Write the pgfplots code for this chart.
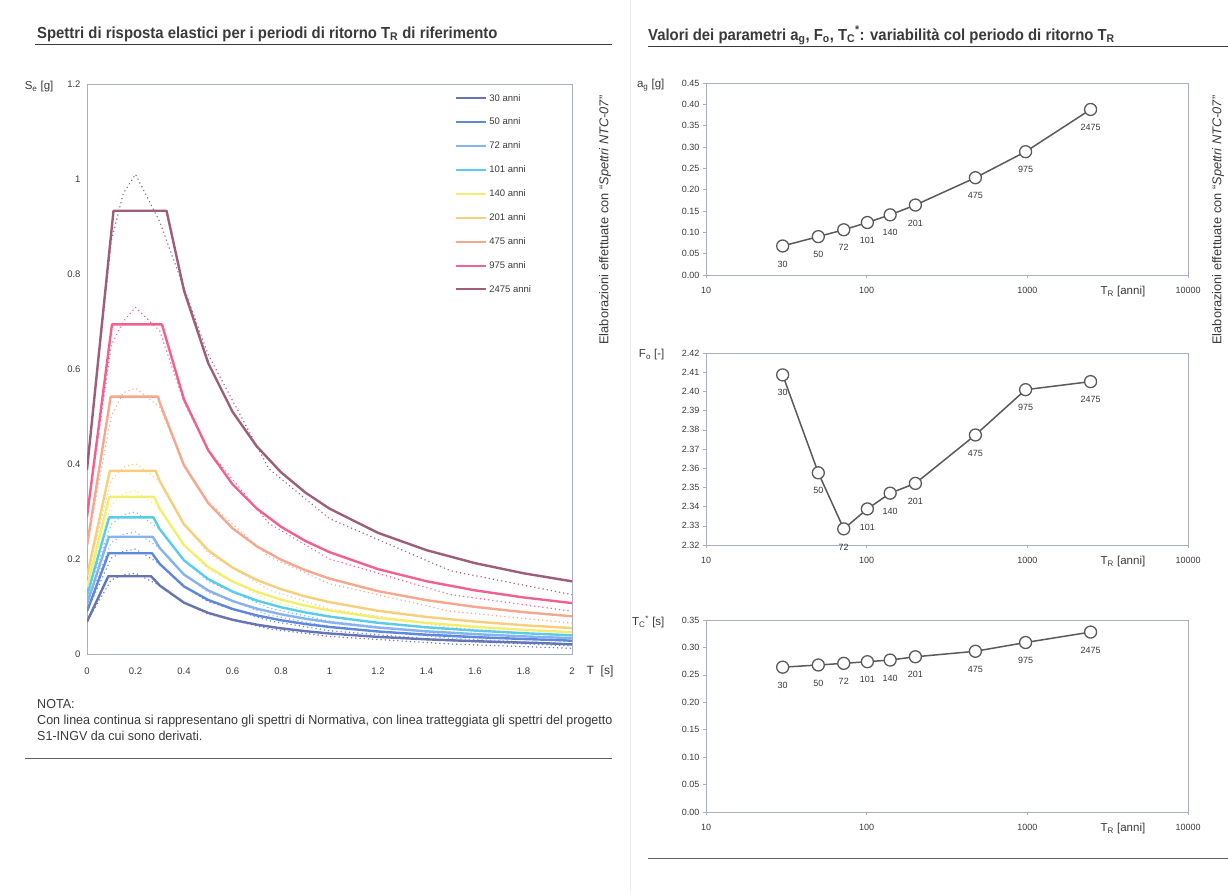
\documentclass[border=0pt]{standalone}
\usepackage{pgfplots}
\usepackage{pgfplotstable}
\pgfplotsset{compat=1.18}
\usepackage{fontspec}
\setmainfont{Liberation Sans}
\newfontfamily\titlefont[FakeStretch=0.93]{Liberation Sans}
\newfontfamily\narrowfont[FakeStretch=0.965]{Liberation Sans}

\definecolor{c30}{HTML}{6674B4}
\definecolor{c50}{HTML}{5F88DA}
\definecolor{c72}{HTML}{86B2F2}
\definecolor{c101}{HTML}{5CCBEA}
\definecolor{c140}{HTML}{F4EE6E}
\definecolor{c201}{HTML}{F6CE7C}
\definecolor{c475}{HTML}{F5A88E}
\definecolor{c975}{HTML}{F0628E}
\definecolor{c2475}{HTML}{9E5E7A}
\definecolor{txt}{HTML}{3A3A3A}
\definecolor{axc}{HTML}{A8AEC4}
\definecolor{ptline}{HTML}{5A5A5A}

\pgfplotstableread{
TR ag F0 TC lab
30 0.068 2.4086 0.264 30
50 0.090 2.3576 0.268 50
72 0.106 2.3284 0.271 72
101 0.123 2.3388 0.274 101
140 0.141 2.3470 0.277 140
201 0.164 2.3521 0.283 201
475 0.228 2.3773 0.293 475
975 0.289 2.4009 0.309 975
2475 0.388 2.4051 0.328 2475
}\partab

\tikzset{
  sol/.style={line width=2.4pt, line join=round},
  dot/.style={line width=1.6pt, line cap=round, dash pattern=on 0.01pt off 4.2pt},
  pline/.style={line width=1.5pt, color=ptline, mark=*, mark size=6pt,
      mark options={fill=white, draw=ptline, line width=1.3pt, solid}},
}
\pgfplotsset{
  rpanel/.style={
    scale only axis, width=482pt, height=192pt,
    axis line style={axc, line width=0.6pt},
    tick style={axc, line width=0.6pt}, tick align=outside, major tick length=3pt,
    xminorticks=false, xtick pos=bottom, ytick pos=left,
    tick label style={font=\fontsize{9}{10}\selectfont, text=txt},
    xticklabel style={yshift=-6pt},
    /pgf/number format/assume math mode=true,
    yticklabel style={/pgf/number format/fixed, /pgf/number format/fixed zerofill, /pgf/number format/precision=2},
    clip=false,
    point meta=explicit symbolic,
    nodes near coords,
    every node near coord/.append style={font=\fontsize{9}{10}\selectfont, text=txt, anchor=center, yshift=-18pt},
    ylabel style={rotate=-90, at={(axis description cs:-0.079,0.99)}, anchor=east, font=\fontsize{11.5}{12}\selectfont, text=txt},
    xlabel style={at={(axis description cs:0.865,0)}, anchor=north, yshift=-8pt, font=\fontsize{11.5}{12}\selectfont, text=txt},
    xlabel={T\textsubscript{R} [anni]},
  }
}

\begin{document}
\begin{tikzpicture}[x=1pt,y=1pt]
\path[use as bounding box] (0,0) rectangle (1228,-892);

% separators and titles
\draw[gray!15, line width=0.8pt] (630,0) -- (630,-892);
\node[anchor=base west, inner sep=0, text=txt, font=\titlefont\bfseries\fontsize{16}{18}\selectfont] at (37,-38)
  {Spettri di risposta elastici per i periodi di ritorno T\textsubscript{R} di riferimento};
\draw[txt, line width=1.2pt] (35,-44.5) -- (612,-44.5);
\node[anchor=base west, inner sep=0, text=txt, font=\titlefont\bfseries\fontsize{16}{18}\selectfont] at (648,-40)
  {Valori dei parametri a\textsubscript{g}, F\textsubscript{o}, T\textsubscript{C}\textsuperscript{*}: variabilità col periodo di ritorno T\textsubscript{R}};
\draw[txt, line width=1.2pt] (648,-46.5) -- (1228,-46.5);

\node[anchor=base west, inner sep=0, text=txt, font=\narrowfont\fontsize{13}{15}\selectfont] at (37,-708) {NOTA:};
\node[anchor=base west, inner sep=0, text=txt, font=\narrowfont\fontsize{13}{15}\selectfont] at (37,-724)
  {Con linea continua si rappresentano gli spettri di Normativa, con linea tratteggiata gli spettri del progetto};
\node[anchor=base west, inner sep=0, text=txt, font=\narrowfont\fontsize{13}{15}\selectfont] at (37,-740)
  {S1-INGV da cui sono derivati.};
\draw[txt!80, line width=1pt] (25,-758) -- (612,-758);
\draw[txt!80, line width=1pt] (648,-858) -- (1228,-858);

\node[rotate=90, text=txt, font=\fontsize{12.8}{14}\selectfont] at (605,-220)
  {Elaborazioni effettuate con ``\textit{Spettri NTC-07}''};
\node[rotate=90, text=txt, font=\fontsize{12.8}{14}\selectfont] at (1218,-220)
  {Elaborazioni effettuate con ``\textit{Spettri NTC-07}''};

% ---------------- left chart ----------------
\begin{axis}[
  at={(87pt,-654pt)}, anchor=south west,
  scale only axis, width=485pt, height=570pt,
  xmin=0, xmax=2, ymin=0, ymax=1.2,
  xtick={0,0.2,0.4,0.6,0.8,1,1.2,1.4,1.6,1.8,2}, ytick={0,0.2,0.4,0.6,0.8,1,1.2},
  axis line style={axc, line width=0.6pt},
  tick style={draw=none},
  tick label style={font=\fontsize{9.5}{10}\selectfont, text=txt},
  /pgf/number format/assume math mode=true,
  xticklabel style={yshift=-10pt},
  yticklabel style={xshift=-3pt},
  ylabel={S\textsubscript{e} [g]},
  ylabel style={rotate=-90, at={(axis description cs:-0.062,0.995)}, anchor=east, font=\fontsize{11.5}{12}\selectfont, text=txt},
  xlabel={T\ \ [s]},
  xlabel style={at={(axis description cs:1.023,0)}, anchor=base west, yshift=-20pt, font=\fontsize{12}{12}\selectfont, text=txt},
  legend style={at={(0.759,0.986)}, anchor=north west, draw=none, fill=none,
    font=\fontsize{9.5}{10}\selectfont, text=txt, row sep=11.5pt, inner sep=0pt},
  legend cell align=left,
  legend image code/.code={\draw[#1, line width=2pt] (0pt,0pt) -- (30pt,0pt);},
]
% dotted S1-INGV spectra
\addplot[c30, dot, forget plot] coordinates {(0,0.068)(0.1,0.156)(0.15,0.167)(0.2,0.170)(0.3,0.144)(0.4,0.108)(0.5,0.084)(0.75,0.053)(1.0,0.037)(1.5,0.021)(2.0,0.012)};
\addplot[c50, dot, forget plot] coordinates {(0,0.090)(0.1,0.202)(0.15,0.216)(0.2,0.221)(0.3,0.190)(0.4,0.142)(0.5,0.110)(0.75,0.070)(1.0,0.049)(1.5,0.028)(2.0,0.017)};
\addplot[c72, dot, forget plot] coordinates {(0,0.106)(0.1,0.234)(0.15,0.252)(0.2,0.257)(0.3,0.223)(0.4,0.167)(0.5,0.130)(0.75,0.082)(1.0,0.058)(1.5,0.033)(2.0,0.021)};
\addplot[c101, dot, forget plot] coordinates {(0,0.123)(0.1,0.273)(0.15,0.293)(0.2,0.299)(0.3,0.263)(0.4,0.197)(0.5,0.153)(0.75,0.097)(1.0,0.069)(1.5,0.040)(2.0,0.026)};
\addplot[c140, dot, forget plot] coordinates {(0,0.141)(0.1,0.314)(0.15,0.338)(0.2,0.344)(0.3,0.306)(0.4,0.229)(0.5,0.178)(0.75,0.113)(1.0,0.080)(1.5,0.047)(2.0,0.031)};
\addplot[c201, dot, forget plot] coordinates {(0,0.164)(0.1,0.366)(0.15,0.393)(0.2,0.401)(0.3,0.364)(0.4,0.273)(0.5,0.212)(0.75,0.135)(1.0,0.095)(1.5,0.056)(2.0,0.037)};
\addplot[c475, dot, forget plot] coordinates {(0,0.228)(0.1,0.50)(0.15,0.55)(0.2,0.56)(0.3,0.52)(0.4,0.40)(0.5,0.32)(0.75,0.205)(1.0,0.148)(1.5,0.090)(2.0,0.065)};
\addplot[c975, dot, forget plot] coordinates {(0,0.289)(0.1,0.65)(0.15,0.70)(0.2,0.73)(0.3,0.68)(0.4,0.53)(0.5,0.43)(0.75,0.275)(1.0,0.200)(1.5,0.125)(2.0,0.090)};
\addplot[c2475, dot, forget plot] coordinates {(0,0.388)(0.1,0.87)(0.15,0.97)(0.2,1.01)(0.3,0.91)(0.4,0.77)(0.5,0.63)(0.75,0.39)(1.0,0.285)(1.5,0.175)(2.0,0.125)};
% solid NTC spectra
\addplot[c30, sol] coordinates {(0,0.068)(0.088,0.1638)(0.264,0.1638)(0.3,0.1442)(0.4,0.1081)(0.5,0.0865)(0.6,0.0721)(0.7,0.0618)(0.8,0.0541)(0.9,0.0481)(1.0,0.0432)(1.2,0.0360)(1.4,0.0309)(1.6,0.0270)(1.8,0.0240)(1.872,0.0231)(2.0,0.0202)};
\addlegendentry{30 anni}
\addplot[c50, sol] coordinates {(0,0.090)(0.0893,0.2122)(0.268,0.2122)(0.3,0.1896)(0.4,0.1422)(0.5,0.1138)(0.6,0.0948)(0.7,0.0813)(0.8,0.0711)(0.9,0.0632)(1.0,0.0569)(1.2,0.0474)(1.4,0.0406)(1.6,0.0355)(1.8,0.0316)(1.96,0.0290)(2.0,0.0279)};
\addlegendentry{50 anni}
\addplot[c72, sol] coordinates {(0,0.106)(0.0903,0.2468)(0.271,0.2468)(0.3,0.2229)(0.4,0.1672)(0.5,0.1337)(0.6,0.1115)(0.7,0.0955)(0.8,0.0836)(0.9,0.0743)(1.0,0.0669)(1.2,0.0557)(1.4,0.0478)(1.6,0.0418)(1.8,0.0372)(2.0,0.0334)};
\addlegendentry{72 anni}
\addplot[c101, sol] coordinates {(0,0.123)(0.0913,0.2877)(0.274,0.2877)(0.3,0.2628)(0.4,0.1971)(0.5,0.1577)(0.6,0.1314)(0.7,0.1126)(0.8,0.0985)(0.9,0.0876)(1.0,0.0788)(1.2,0.0657)(1.4,0.0563)(1.6,0.0493)(1.8,0.0438)(2.0,0.0394)};
\addlegendentry{101 anni}
\addplot[c140, sol] coordinates {(0,0.141)(0.0923,0.3309)(0.277,0.3309)(0.3,0.3056)(0.4,0.2292)(0.5,0.1833)(0.6,0.1528)(0.7,0.1310)(0.8,0.1146)(0.9,0.1019)(1.0,0.0917)(1.2,0.0764)(1.4,0.0655)(1.6,0.0573)(1.8,0.0509)(2.0,0.0458)};
\addlegendentry{140 anni}
\addplot[c201, sol] coordinates {(0,0.164)(0.0943,0.3857)(0.283,0.3857)(0.3,0.3639)(0.4,0.2729)(0.5,0.2183)(0.6,0.1819)(0.7,0.1559)(0.8,0.1365)(0.9,0.1213)(1.0,0.1092)(1.2,0.0910)(1.4,0.0780)(1.6,0.0682)(1.8,0.0606)(2.0,0.0546)};
\addlegendentry{201 anni}
\addplot[c475, sol] coordinates {(0,0.228)(0.0977,0.5420)(0.293,0.5420)(0.3,0.5293)(0.4,0.3970)(0.5,0.3176)(0.6,0.2647)(0.7,0.2268)(0.8,0.1985)(0.9,0.1764)(1.0,0.1588)(1.2,0.1323)(1.4,0.1134)(1.6,0.0992)(1.8,0.0882)(2.0,0.0794)};
\addlegendentry{475 anni}
\addplot[c975, sol] coordinates {(0,0.289)(0.103,0.6939)(0.309,0.6939)(0.4,0.5360)(0.5,0.4288)(0.6,0.3574)(0.7,0.3063)(0.8,0.2680)(0.9,0.2382)(1.0,0.2144)(1.2,0.1787)(1.4,0.1532)(1.6,0.1340)(1.8,0.1191)(2.0,0.1072)};
\addlegendentry{975 anni}
\addplot[c2475, sol] coordinates {(0,0.388)(0.1093,0.9331)(0.328,0.9331)(0.4,0.7652)(0.5,0.6121)(0.6,0.5101)(0.7,0.4372)(0.8,0.3826)(0.9,0.3401)(1.0,0.3061)(1.2,0.2551)(1.4,0.2186)(1.6,0.1913)(1.8,0.1700)(2.0,0.1530)};
\addlegendentry{2475 anni}
\end{axis}

% ---------------- right panels ----------------
\begin{axis}[xmode=log, xmin=10, xmax=10000, xtick={10,100,1000,10000}, xticklabels={10,100,1000,10000},
  rpanel, at={(706pt,-275pt)}, anchor=south west,
  ymin=0, ymax=0.45, ytick={0,0.05,0.1,0.15,0.2,0.25,0.3,0.35,0.4,0.45},
  ylabel={a\textsubscript{g} [g]}]
\addplot[pline] table[x=TR, y=ag, meta=lab] \partab;
\end{axis}

\begin{axis}[xmode=log, xmin=10, xmax=10000, xtick={10,100,1000,10000}, xticklabels={10,100,1000,10000},
  rpanel, at={(706pt,-545pt)}, anchor=south west,
  ymin=2.32, ymax=2.42, ytick={2.32,2.33,2.34,2.35,2.36,2.37,2.38,2.39,2.40,2.41,2.42},
  ylabel={F\textsubscript{o} [-]}]
\addplot[pline] table[x=TR, y=F0, meta=lab] \partab;
\end{axis}

\begin{axis}[xmode=log, xmin=10, xmax=10000, xtick={10,100,1000,10000}, xticklabels={10,100,1000,10000},
  rpanel, at={(706pt,-812pt)}, anchor=south west,
  ymin=0, ymax=0.35, ytick={0,0.05,0.1,0.15,0.2,0.25,0.3,0.35},
  ylabel={T\textsubscript{C}\textsuperscript{*} [s]}]
\addplot[pline] table[x=TR, y=TC, meta=lab] \partab;
\end{axis}
\end{tikzpicture}
\end{document}
